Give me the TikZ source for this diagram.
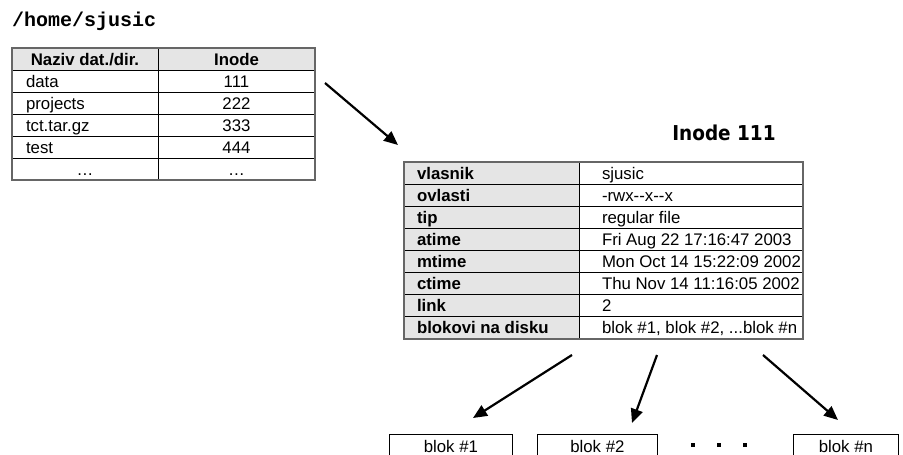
\documentclass[tikz,border=0pt]{standalone}
\usepackage{fontspec}
\setmainfont{Liberation Sans}
\newfontfamily\pathfont{Liberation Mono}
\newfontfamily\titlefont{DejaVu Sans Condensed}
\usetikzlibrary{arrows.meta,positioning}

\tikzset{
  txt/.style={font=\fontsize{16.8}{18}\selectfont},
  bold txt/.style={font=\fontsize{16.8}{18}\selectfont\bfseries},
  cell/.style={txt, draw, line width=0.8pt, inner sep=0pt, outer sep=0pt,
    anchor=north west, minimum height=22pt, text height=13pt, text depth=1pt},
  % left aligned cell: #1 = indent, #2 = column width
  leftcell/.style 2 args={cell, minimum width=#2,
    execute at begin node={\hbox to #2\bgroup\hskip#1\relax},
    execute at end node={\hss\egroup}},
  gray cell/.style={fill=black!10},
  frame/.style={draw=black!60, line width=1.6pt},
  ptr/.style={line width=2.2pt, -{Triangle[length=14pt,width=12pt]}},
  blokbox/.style={txt, draw, line width=0.8pt, anchor=north west,
    minimum height=24pt, inner sep=0pt, text height=13pt, text depth=1pt},
}

\begin{document}
\begin{tikzpicture}[x=1pt, y=-1pt]
  \useasboundingbox (0,0) rectangle (903,455);

  % directory
  \node[anchor=west, inner sep=0pt, font=\pathfont\fontsize{20}{22}\selectfont\bfseries]
    (dirpath) at (12,21) {/home/sjusic};
  \node[cell, gray cell, bold txt, minimum width=146pt] (name0) at (12,48) {Naziv dat./dir.};
  \node[cell, gray cell, bold txt, minimum width=157pt] (ino0) at (158,48) {Inode};
  \foreach \fname/\fino [count=\i] in {data/111, projects/222, tct.tar.gz/333, test/444} {
    \node[leftcell={14pt}{146pt}] (name\i) at (12,48+22*\i) {\fname};
    \node[cell, minimum width=157pt] (ino\i) at (158,48+22*\i) {\fino};
  }
  \node[cell, minimum width=146pt] (name5) at (12,158) {\dots};
  \node[cell, minimum width=157pt] (ino5) at (158,158) {\dots};
  \draw[frame] (name0.north west) rectangle (ino5.south east);

  % inode
  \node[font=\titlefont\fontsize{20.5}{22}\selectfont\bfseries] (inodetitle) at (724,133) {Inode 111};
  \foreach \key/\val [count=\i from 0] in {
      vlasnik/sjusic, ovlasti/-rwx{-}{-}x{-}{-}x, tip/regular file,
      atime/Fri Aug 22 17:16:47 2003, mtime/Mon Oct 14 15:22:09 2002,
      ctime/Thu Nov 14 11:16:05 2002, link/2,
      blokovi na disku/{blok \#1, blok \#2, ...blok \#n}} {
    \node[leftcell={13pt}{175pt}, gray cell, bold txt, minimum height=22.1pt]
      (key\i) at (404,162+22.1*\i) {\key};
    \node[leftcell={23pt}{224pt}, minimum height=22.1pt] (val\i) at (579,162+22.1*\i) {\val};
  }
  \draw[frame] (key0.north west) rectangle (val7.south east);

  % disk blocks
  \node[blokbox, minimum width=123pt] (blok1) at (389,434) {blok \#1};
  \node[blokbox, minimum width=120pt] (blok2) at (537,434) {blok \#2};
  \node[blokbox, minimum width=105pt] (blokn) at (793,434) {blok \#n};
  \foreach \dx in {691,717,743}
    \fill (\dx,443) rectangle ++(4,4);

  % pointers
  \coordinate (dirptr) at (325,83);
  \coordinate (inodein) at (398,145);
  \coordinate (b1from) at (572,355);
  \coordinate (b1to) at (473,418);
  \coordinate (b2from) at (657,355);
  \coordinate (b2to) at (632,423);
  \coordinate (bnfrom) at (763,355);
  \coordinate (bnto) at (838,420);
  \draw[ptr] (dirptr) -- (inodein);
  \draw[ptr] (b1from) -- (b1to);
  \draw[ptr] (b2from) -- (b2to);
  \draw[ptr] (bnfrom) -- (bnto);
\end{tikzpicture}
\end{document}
